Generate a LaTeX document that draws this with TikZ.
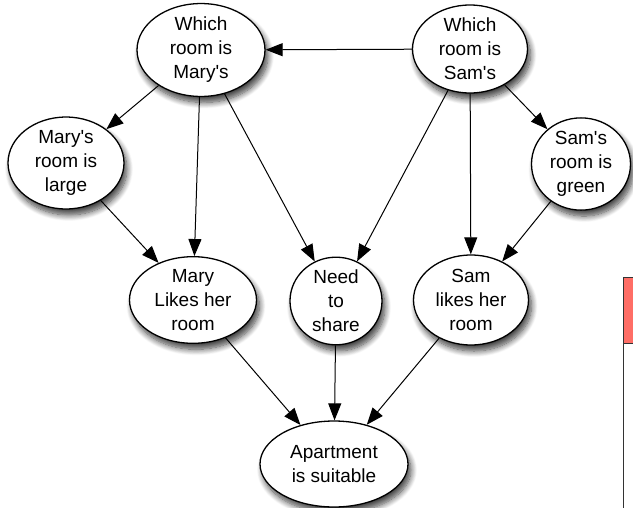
\documentclass[tikz,border=0pt]{standalone}
\usepackage{fontspec}
\setmainfont{Liberation Sans}
\usetikzlibrary{shapes.geometric,shadows.blur,arrows.meta}
\definecolor{boxred}{RGB}{255,110,102}
\begin{document}
\begin{tikzpicture}[x=1pt,y=-1pt]
\tikzstyle{every node}+=[inner sep=0pt]
\tikzstyle{dec}=[ellipse,draw=black,line width=1.3pt,fill=white,align=center,
  font=\fontsize{19}{24}\selectfont,
  blur shadow={shadow xshift=3pt,shadow yshift=-6pt,shadow opacity=75,shadow blur steps=10,shadow blur radius=6pt}]
\tikzstyle{lnk}=[-{Triangle[length=17pt,width=13pt]},line width=1pt]
\useasboundingbox (0,0) rectangle (633,507);
% questions
\node [dec,minimum width=128pt,minimum height=89pt] (maryq) at (201,50) {Which\\room is\\Mary\textquotesingle s};
\node [dec,minimum width=115pt,minimum height=88pt] (samq) at (470,49) {Which\\room is\\Sam\textquotesingle s};
% facts
\node [dec,minimum width=116pt,minimum height=88pt] (marybig) at (66,163) {Mary\textquotesingle s\\room is\\large};
\node [dec,minimum width=99pt,minimum height=80pt] (samgreen) at (581,164) {Sam\textquotesingle s\\room is\\green};
% preferences
\node [dec,minimum width=127pt,minimum height=86pt] (marylikes) at (193,300) {Mary\\Likes her\\room};
\node [dec,minimum width=92pt,minimum height=87pt] (share) at (336,301) {Need\\to\\share};
\node [dec,minimum width=115pt,minimum height=90pt] (samlikes) at (471,300) {Sam\\likes her\\room};
% result
\node [dec,minimum width=148pt,minimum height=86pt] (apt) at (334,464) {Apartment\\is suitable};
% links
\draw [lnk] (samq) -- (maryq);
\draw [lnk] (maryq) -- (marybig);
\draw [lnk] (maryq) -- (marylikes);
\draw [lnk] (maryq) -- (share);
\draw [lnk] (samq) -- (share);
\draw [lnk] (samq) -- (samlikes);
\draw [lnk] (samq) -- (samgreen);
\draw [lnk] (marybig) -- (marylikes);
\draw [lnk] (samgreen) -- (samlikes);
\draw [lnk] (marylikes) -- (apt);
\draw [lnk] (share) -- (apt);
\draw [lnk] (samlikes) -- (apt);
% cut off box at the right
\fill [boxred] (623,277) rectangle (634,343);
\draw [line width=1pt,black!80] (634,277) -- (623,277) -- (623,508);
\draw [line width=1pt,black!80] (623,343) -- (634,343);
\end{tikzpicture}
\end{document}
